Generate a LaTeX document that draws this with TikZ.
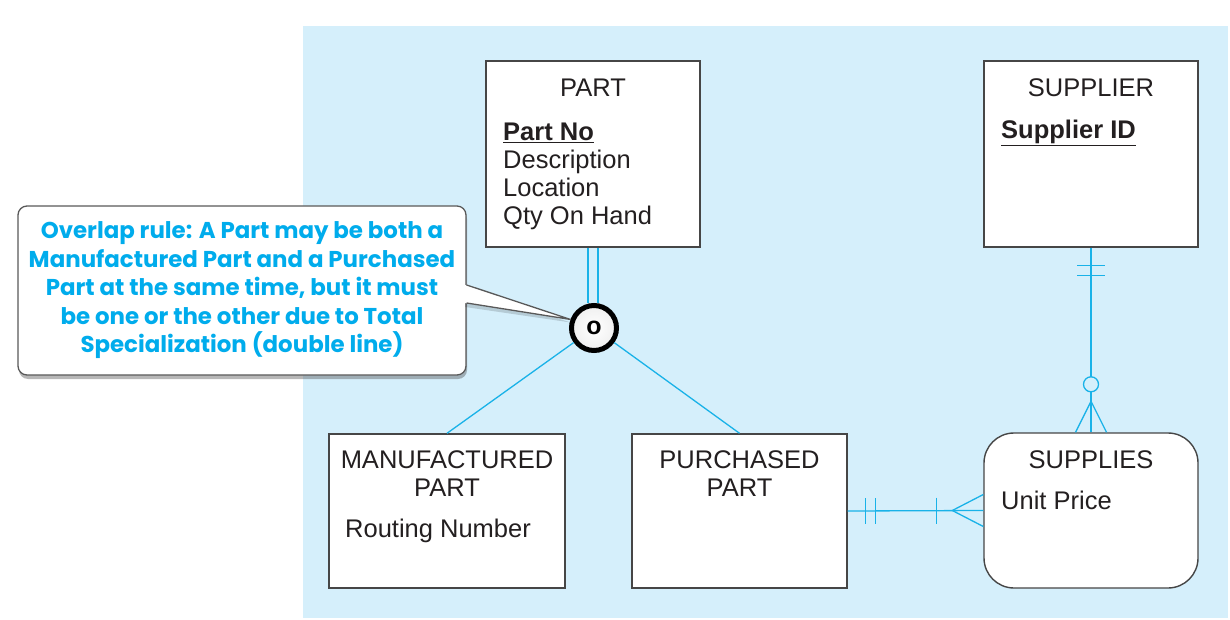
\documentclass[tikz,border=0pt]{standalone}
\usepackage{fontspec}
\setmainfont{Liberation Sans}
\newfontfamily\callfont{Poppins}
\usetikzlibrary{calc,shadows}
\definecolor{bgblue}{RGB}{213,239,251}
\definecolor{relblue}{RGB}{25,178,232}
\definecolor{noteblue}{RGB}{0,172,236}
\definecolor{boxgray}{RGB}{70,70,70}
\definecolor{txt}{RGB}{35,31,32}
\tikzset{
  entity/.style={draw=boxgray, line width=1.4pt, fill=white, inner sep=0pt},
  ent/.style={entity, rectangle, minimum width=214pt, minimum height=186pt},
  title/.style={anchor=base, inner sep=0pt, text=txt, font=\fontsize{25.5}{28}\selectfont},
  attr/.style={anchor=base west, inner sep=0pt, text=txt, font=\fontsize{25.5}{28}\selectfont},
  keyattr/.style={attr, font=\fontsize{25.5}{28}\selectfont\bfseries},
  rel/.style={draw=relblue, line width=1.3pt},
  notebox/.style={draw=gray!70!black, line width=1.3pt, fill=white, rounded corners=9pt,
    minimum width=448pt, minimum height=169pt, inner sep=0pt, align=center,
    text=noteblue, font=\callfont\fontsize{22.9}{28.5}\selectfont\bfseries,
    drop shadow={shadow xshift=1pt, shadow yshift=-4pt, opacity=0.4, fill=black!70}},
  ovcircle/.style={circle, draw=black, line width=5pt, minimum size=45pt, inner sep=0pt,
    inner color=white, outer color=gray!12, font=\fontsize{25}{28}\selectfont\bfseries}
}
\begin{document}
\begin{tikzpicture}[x=1pt,y=-1pt]
\useasboundingbox (0,0) rectangle (1230,620);
\fill[bgblue] (303,26) rectangle (1228,618);

% entities
\node[ent] (part) at (593,154) {};
\node[title] (partT) at (593,97) {PART};
\node[keyattr] (partA1) at (503,141) {\underline{Part No}};
\node[attr] (partA2) at (503,169) {Description};
\node[attr] (partA3) at (503,197) {Location};
\node[attr] (partA4) at (503,225) {Qty On Hand};

\node[ent] (supplier) at (1091,154) {};
\node[title] (supT) at (1091,97) {SUPPLIER};
\node[keyattr] (supA1) at (1001,139) {\underline{Supplier ID}};

\node[entity, rectangle, minimum width=236pt, minimum height=154pt] (mpart) at (447,511) {};
\node[title] (mpT1) at (447,468) {MANUFACTURED};
\node[title] (mpT2) at (447,496) {PART};
\node[attr] (mpA1) at (345,537) {Routing Number};

\node[entity, rectangle, minimum width=215pt, minimum height=154pt] (ppart) at (739.5,511) {};
\node[title] (ppT1) at (739.5,468) {PURCHASED};
\node[title] (ppT2) at (739.5,496) {PART};

\node[entity, rectangle, rounded corners=30pt, minimum width=214pt, minimum height=155pt] (supplies) at (1091,510.5) {};
\node[title] (suT) at (1091,468) {SUPPLIES};
\node[attr] (suA1) at (1001,509) {Unit Price};

% overlap circle
\node[ovcircle] (ov) at (594,328) {o};

% subtype connectors
\draw[rel] ([xshift=-5pt]part.south) -- ([xshift=-5pt]part.south |- ov.north);
\draw[rel] ([xshift=5pt]part.south) -- ([xshift=5pt]part.south |- ov.north);
\draw[rel] (ov) -- (mpart.north);
\draw[rel] (ov) -- (ppart.north);

% SUPPLIER - SUPPLIES
\draw[rel] (supplier.south) -- (supplies.north);
\draw[rel] ($(supplier.south)+(-14,18)$) -- ($(supplier.south)+(14,18)$);
\draw[rel] ($(supplier.south)+(-14,28)$) -- ($(supplier.south)+(14,28)$);
\draw[rel, fill=bgblue] ($(supplies.north)+(0,-48)$) circle[radius=7.5pt];
\draw[rel] ($(supplies.north)+(-15.5,0)$) -- ($(supplies.north)+(0,-31)$) -- ($(supplies.north)+(15.5,0)$);

% PURCHASED PART - SUPPLIES
\draw[rel] (ppart.east) -- (supplies.west);
\draw[rel] ($(ppart.east)+(18,-13)$) -- ($(ppart.east)+(18,13)$);
\draw[rel] ($(ppart.east)+(28,-13)$) -- ($(ppart.east)+(28,13)$);
\draw[rel] ($(supplies.west)+(-47,-13)$) -- ($(supplies.west)+(-47,13)$);
\draw[rel] ($(supplies.west)+(0,-16)$) -- ($(supplies.west)+(-31,0)$) -- ($(supplies.west)+(0,16)$);

% callout
\node[notebox] (note) at (242,290.5) {Overlap rule: A Part may be both a\\Manufactured Part and a Purchased\\Part at the same time, but it must\\be one or the other due to Total\\Specialization (double line)};
\coordinate (pa) at ($(note.east)+(-1.5,-5.5)$);
\coordinate (pb) at ($(note.east)+(-1.5,12.5)$);
\fill[black, opacity=0.15] ($(pa)+(0,4)$) -- ($(ov.160)+(0,3)$) -- ($(pb)+(0,4)$) -- cycle;
\fill[white] (pa) -- (ov.160) -- (pb) -- cycle;
\draw[gray!70!black, line width=1.3pt, line join=round] ($(pa)+(1.5,0)$) -- (ov.160) -- ($(pb)+(1.5,0)$);
\end{tikzpicture}
\end{document}
